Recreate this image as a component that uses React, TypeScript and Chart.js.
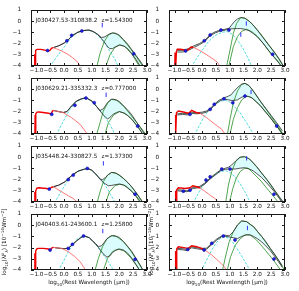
import React, { useEffect, useRef } from 'react';
import { Chart, registerables } from 'chart.js';
Chart.register(...registerables);

type Pair = [number, number];

// ---------- Panel 1 : J030427.53-310838.2 (row 1, left) ----------
const p1Red: Pair[] = [[-1.07,-4.2],[-1.065,-2.95],[-1.055,-4.2],[-1.045,-2.9],[-1.02,-2.6],[-0.98,-2.52],[-0.85,-2.52],[-0.7,-2.58],[-0.6,-2.65],[-0.52,-2.62],[-0.46,-2.42],[-0.4,-2.36]];
const p1Salmon: Pair[] = [[-0.4,-2.36],[-0.25,-2.5],[-0.1,-2.65],[0.1,-2.9],[0.3,-3.25],[0.45,-3.55],[0.62,-4.1]];
const p1Cyan: Pair[] = [[-0.52,-4.1],[-0.27,-3.17],[-0.03,-2.42],[0.15,-1.8],[0.3,-1.35],[0.5,-1.0],[0.7,-0.85],[0.9,-0.82],[1.05,-0.95],[1.2,-1.2],[1.35,-1.6],[1.5,-2.05],[1.66,-2.72],[1.84,-3.4],[1.97,-4.1]];
const p1GreenHi: Pair[] = [[1.18,-4.1],[1.3,-2.87],[1.45,-1.83],[1.6,-1.23],[1.76,-1.05],[1.93,-1.17],[2.15,-1.68],[2.39,-2.42],[2.63,-3.23],[2.87,-4.1]];
const p1GreenLo: Pair[] = [[1.5,-4.1],[1.66,-3.0],[1.84,-2.33],[2.02,-2.12],[2.2,-2.27],[2.45,-2.93],[2.74,-4.1]];
const p1TotX = [-0.4,-0.2,0.0,0.15,0.3,0.5,0.7,0.9,1.05,1.2,1.35,1.45,1.55,1.65,1.75,1.85,2.0,2.15,2.3,2.45,2.6,2.75,2.9];
const p1TotHi = [-2.36,-2.2,-1.95,-1.65,-1.28,-0.98,-0.83,-0.79,-0.92,-1.15,-1.45,-1.42,-1.28,-1.12,-1.05,-1.07,-1.25,-1.65,-2.05,-2.55,-3.05,-3.55,-4.1];
const p1TotLo = [-2.36,-2.2,-1.95,-1.65,-1.28,-0.98,-0.83,-0.79,-0.92,-1.15,-1.55,-1.85,-2.2,-2.45,-2.45,-2.3,-2.12,-2.2,-2.45,-2.9,-3.4,-4.0,-4.6];
const p1Pts: Pair[] = [[-0.6,-2.62],[0.1,-1.75],[0.27,-1.26],[0.64,-0.87],[2.52,-2.9]];
const p1Lim: Pair[] = [[1.38,-0.35]];

// ---------- Panel 2 (row 1, right) ----------
const p2Red: Pair[] = [[-0.99,-4.2],[-0.98,-2.8],[-0.96,-4.2],[-0.93,-2.7],[-0.9,-2.5],[-0.8,-2.5],[-0.68,-2.55],[-0.58,-2.65],[-0.48,-2.5],[-0.4,-2.3],[-0.32,-2.32]];
const p2Salmon: Pair[] = [[-0.32,-2.32],[-0.08,-2.63],[0.23,-3.1],[0.53,-3.61],[0.67,-4.1]];
const p2Cyan: Pair[] = [[-0.4,-4.1],[-0.08,-2.87],[0.23,-1.83],[0.45,-1.3],[0.7,-1.0],[0.9,-0.92],[1.05,-1.1],[1.2,-1.45],[1.37,-2.0],[1.55,-2.75],[1.71,-3.55],[1.8,-4.1]];
const p2GreenHi: Pair[] = [[0.88,-4.1],[1.01,-2.57],[1.13,-1.08],[1.25,-0.19],[1.4,0.33],[1.55,0.26],[1.73,-0.04],[1.9,-0.5],[2.1,-1.08],[2.46,-2.27],[2.76,-3.32],[2.95,-4.05]];
const p2GreenLo: Pair[] = [[0.96,-4.1],[1.13,-2.27],[1.28,-1.38],[1.43,-0.9],[1.61,-0.72],[1.8,-0.93],[2.0,-1.35],[2.2,-1.95],[2.46,-2.8],[2.76,-3.61],[2.88,-4.05]];
const p2TotX = [-0.9,-0.7,-0.5,-0.3,-0.1,0.1,0.29,0.47,0.65,0.83,0.98,1.08,1.18,1.28,1.4,1.55,1.7,1.85,2.0,2.2,2.4,2.6,2.8,2.95];
const p2TotHi = [-2.6,-2.6,-2.45,-2.2,-2.0,-1.7,-1.2,-0.95,-0.8,-0.72,-0.62,-0.3,0.0,0.2,0.33,0.27,0.0,-0.35,-0.8,-1.45,-2.1,-2.7,-3.4,-4.05];
const p2TotLo = [-2.75,-2.75,-2.6,-2.35,-2.1,-1.8,-1.3,-1.05,-0.88,-0.8,-0.7,-0.68,-0.66,-0.66,-0.66,-0.72,-0.85,-1.1,-1.4,-1.95,-2.6,-3.2,-3.8,-4.4];
const p2Pts: Pair[] = [[-0.6,-2.65],[0.08,-1.74],[0.29,-1.23],[0.68,-0.79],[0.97,-0.79],[2.55,-2.95]];
const p2Lim: Pair[] = [[1.4,-1.2],[1.6,-0.2]];

// ---------- Panel 3 : J030629.21-335332.3 (row 2, left) ----------
const p3Red: Pair[] = [[-1.06,-4.2],[-1.05,-2.3],[-1.035,-4.2],[-1.02,-2.2],[-0.98,-2.05],[-0.9,-2.04],[-0.7,-2.1],[-0.57,-2.15],[-0.48,-2.2],[-0.42,-1.95],[-0.38,-1.9]];
const p3Salmon: Pair[] = [[-0.38,-1.9],[-0.2,-2.0],[-0.03,-2.1],[0.27,-2.54],[0.58,-3.14],[0.82,-3.94],[0.85,-4.1]];
const p3Cyan: Pair[] = [[-0.28,-4.1],[-0.09,-3.14],[0.09,-2.33],[0.21,-1.8],[0.4,-1.25],[0.6,-0.9],[0.8,-0.8],[1.0,-1.05],[1.2,-1.6],[1.36,-2.1],[1.5,-2.6],[1.66,-3.14],[1.85,-4.1]];
const p3GreenHi: Pair[] = [[1.17,-4.1],[1.3,-2.99],[1.42,-1.95],[1.57,-1.26],[1.72,-0.9],[1.9,-0.99],[2.15,-1.5],[2.39,-2.24],[2.63,-2.99],[2.87,-3.73],[2.97,-4.1]];
const p3GreenLo: Pair[] = [[1.47,-4.1],[1.6,-2.99],[1.78,-2.33],[2.0,-2.0],[2.21,-2.15],[2.45,-2.69],[2.69,-3.43],[2.87,-4.1]];
const p3TotX = [-0.38,-0.2,-0.03,0.1,0.27,0.45,0.64,0.79,1.0,1.18,1.3,1.42,1.5,1.57,1.65,1.72,1.8,1.9,2.0,2.15,2.3,2.45,2.6,2.75,2.9];
const p3TotHi = [-1.9,-2.0,-2.08,-2.0,-1.5,-1.05,-0.85,-0.76,-1.05,-1.56,-1.9,-1.75,-1.45,-1.2,-1.0,-0.9,-0.9,-0.97,-1.1,-1.5,-1.85,-2.3,-2.85,-3.4,-3.95];
const p3TotLo = [-1.9,-2.0,-2.08,-2.0,-1.5,-1.05,-0.85,-0.76,-1.05,-1.56,-1.95,-2.3,-2.5,-2.65,-2.55,-2.35,-2.2,-2.08,-2.0,-2.12,-2.35,-2.69,-3.15,-3.65,-4.2];
const p3Pts: Pair[] = [[-0.45,-2.24],[0.39,-1.44],[0.79,-0.79],[1.09,-1.2],[2.66,-3.29]];
const p3Lim: Pair[] = [[1.52,-0.5]];

// ---------- Panel 4 (row 2, right) ----------
const p4Red: Pair[] = [[-0.98,-4.2],[-0.97,-2.3],[-0.95,-4.2],[-0.93,-2.1],[-0.86,-1.95],[-0.68,-2.04],[-0.5,-2.15],[-0.42,-2.0],[-0.38,-1.89],[-0.2,-2.1],[-0.08,-2.15]];
const p4Salmon: Pair[] = [[-0.08,-2.15],[0.16,-2.54],[0.47,-3.14],[0.71,-3.58],[0.85,-4.1]];
const p4Cyan: Pair[] = [[-0.28,-4.1],[-0.08,-3.14],[0.1,-2.33],[0.3,-1.75],[0.5,-1.3],[0.7,-1.05],[0.85,-1.0],[1.0,-1.15],[1.15,-1.5],[1.37,-2.1],[1.61,-2.99],[1.88,-4.1]];
const p4GreenHi: Pair[] = [[0.91,-4.1],[1.01,-2.69],[1.13,-1.2],[1.28,-0.16],[1.43,0.43],[1.55,0.52],[1.68,0.35],[1.8,0.0],[2.1,-1.05],[2.46,-2.3],[2.76,-3.35],[2.94,-4.05]];
const p4GreenLo: Pair[] = [[1.0,-4.1],[1.13,-2.69],[1.28,-1.65],[1.43,-0.96],[1.61,-0.61],[1.8,-0.76],[2.1,-1.45],[2.46,-2.5],[2.76,-3.5],[2.9,-4.05]];
const p4TotX = [-0.9,-0.7,-0.5,-0.4,-0.2,0.0,0.15,0.29,0.44,0.6,0.79,0.95,1.05,1.15,1.28,1.43,1.55,1.68,1.8,1.95,2.1,2.3,2.5,2.7,2.9];
const p4TotHi = [-2.2,-2.15,-2.2,-2.05,-2.1,-2.05,-1.95,-1.75,-1.35,-1.0,-0.78,-0.62,-0.5,-0.2,0.15,0.45,0.52,0.35,0.02,-0.5,-1.05,-1.7,-2.35,-3.0,-3.7];
const p4TotLo = [-2.3,-2.25,-2.3,-2.15,-2.2,-2.15,-2.05,-1.85,-1.45,-1.1,-0.88,-0.95,-1.0,-1.0,-0.95,-0.72,-0.62,-0.65,-0.78,-1.1,-1.45,-2.05,-2.65,-3.3,-3.95];
const p4Pts: Pair[] = [[-0.44,-2.24],[0.29,-1.8],[0.44,-1.35],[0.79,-0.85],[1.11,-1.2],[1.55,-0.61],[2.7,-3.29]];
const p4Lim: Pair[] = [[1.77,-0.25]];

// ---------- Panel 5 : J035448.24-330827.5 (row 3, left) ----------
const p5Red: Pair[] = [[-1.07,-4.2],[-1.06,-3.1],[-1.05,-4.2],[-1.03,-3.0],[-0.98,-2.75],[-0.9,-2.73],[-0.75,-2.77],[-0.63,-2.8],[-0.54,-2.85],[-0.46,-2.7],[-0.39,-2.64]];
const p5Salmon: Pair[] = [[-0.39,-2.64],[-0.25,-2.85],[-0.09,-3.09],[0.15,-3.45],[0.33,-3.69],[0.52,-4.1]];
const p5Cyan: Pair[] = [[-0.35,-4.1],[-0.15,-3.24],[0.03,-2.49],[0.2,-1.8],[0.4,-1.4],[0.6,-1.15],[0.84,-1.02],[1.0,-1.17],[1.18,-1.62],[1.36,-2.08],[1.52,-2.64],[1.66,-3.24],[1.86,-4.1]];
const p5GreenHi: Pair[] = [[1.19,-4.1],[1.3,-3.09],[1.42,-2.19],[1.57,-1.6],[1.72,-1.36],[1.9,-1.45],[2.15,-1.9],[2.39,-2.49],[2.63,-3.24],[2.87,-4.1]];
const p5GreenLo: Pair[] = [[1.5,-4.1],[1.64,-3.09],[1.84,-2.55],[2.02,-2.4],[2.23,-2.55],[2.45,-3.03],[2.69,-3.69],[2.8,-4.1]];
const p5TotX = [-0.39,-0.2,0.03,0.15,0.33,0.51,0.7,0.84,1.0,1.18,1.3,1.4,1.5,1.6,1.72,1.85,2.0,2.15,2.3,2.45,2.6,2.75,2.9];
const p5TotHi = [-2.64,-2.5,-2.2,-1.9,-1.54,-1.24,-1.09,-1.0,-1.15,-1.6,-1.95,-2.0,-1.8,-1.55,-1.36,-1.4,-1.6,-1.9,-2.25,-2.65,-3.15,-3.7,-4.2];
const p5TotLo = [-2.64,-2.5,-2.2,-1.9,-1.54,-1.24,-1.09,-1.0,-1.15,-1.6,-1.97,-2.22,-2.4,-2.55,-2.52,-2.45,-2.4,-2.48,-2.75,-3.05,-3.5,-4.0,-4.5];
const p5Pts: Pair[] = [[-0.54,-2.85],[0.15,-1.99],[0.33,-1.6],[0.84,-1.0],[2.57,-3.3]];
const p5Lim: Pair[] = [[1.42,-0.55]];

// ---------- Panel 6 (row 3, right) ----------
const p6Red: Pair[] = [[-0.97,-4.2],[-0.96,-3.0],[-0.94,-4.2],[-0.92,-2.9],[-0.86,-2.73],[-0.62,-2.79],[-0.44,-2.73],[-0.34,-2.55],[-0.2,-2.64],[-0.08,-2.75]];
const p6Salmon: Pair[] = [[-0.08,-2.75],[0.04,-2.94],[0.29,-3.39],[0.47,-3.69],[0.6,-4.1]];
const p6Cyan: Pair[] = [[-0.33,-4.1],[-0.14,-3.24],[0.04,-2.49],[0.25,-1.95],[0.45,-1.6],[0.65,-1.3],[0.85,-1.2],[1.0,-1.35],[1.19,-1.75],[1.37,-2.34],[1.55,-3.09],[1.75,-4.1]];
const p6GreenHi: Pair[] = [[0.85,-4.1],[0.95,-2.49],[1.07,-1.3],[1.21,-0.4],[1.37,-0.01],[1.53,0.04],[1.71,-0.16],[1.97,-0.85],[2.34,-2.0],[2.64,-3.05],[2.88,-3.9],[2.96,-4.1]];
const p6GreenLo: Pair[] = [[0.98,-4.1],[1.11,-2.79],[1.23,-1.9],[1.37,-1.3],[1.53,-1.0],[1.65,-0.97],[1.8,-1.3],[2.1,-2.04],[2.4,-2.94],[2.7,-3.84],[2.78,-4.1]];
const p6TotX = [-0.9,-0.7,-0.56,-0.44,-0.34,-0.2,-0.08,0.1,0.29,0.47,0.68,0.85,0.95,1.07,1.21,1.37,1.53,1.71,1.85,1.97,2.15,2.34,2.5,2.64,2.8,2.95];
const p6TotHi = [-2.9,-2.95,-3.0,-2.9,-2.7,-2.65,-2.6,-2.3,-1.85,-1.5,-1.12,-0.98,-0.9,-0.7,-0.35,0.0,0.05,-0.14,-0.5,-0.83,-1.4,-1.98,-2.5,-3.0,-3.55,-4.05];
const p6TotLo = [-3.0,-3.05,-3.08,-3.0,-2.8,-2.75,-2.7,-2.4,-1.95,-1.6,-1.2,-1.08,-1.06,-1.06,-1.05,-0.98,-0.94,-1.05,-1.22,-1.45,-1.8,-2.3,-2.75,-3.15,-3.7,-4.25];
const p6Pts: Pair[] = [[-0.68,-3.03],[-0.44,-2.94],[0.14,-2.04],[0.29,-1.75],[0.71,-1.06],[1.01,-1.06],[2.6,-3.3]];
const p6Lim: Pair[] = [[1.61,-0.1]];

// ---------- Panel 7 : J040403.61-243600.1 (row 4, left) ----------
const p7Red: Pair[] = [[-1.07,-4.2],[-1.06,-2.5],[-1.05,-4.2],[-1.03,-2.3],[-0.98,-2.1],[-0.93,-2.07],[-0.75,-2.07],[-0.57,-2.13],[-0.5,-2.2],[-0.44,-2.02],[-0.39,-1.98]];
const p7Salmon: Pair[] = [[-0.39,-1.98],[-0.09,-2.07],[0.15,-2.36],[0.39,-2.81],[0.58,-3.26],[0.8,-4.1]];
const p7Cyan: Pair[] = [[-0.22,-4.1],[-0.03,-3.26],[0.15,-2.36],[0.3,-1.75],[0.45,-1.3],[0.6,-1.05],[0.72,-0.95],[0.91,-1.12],[1.12,-1.62],[1.3,-2.21],[1.42,-2.66],[1.6,-3.26],[1.8,-4.1]];
const p7GreenHi: Pair[] = [[1.11,-4.1],[1.24,-2.96],[1.39,-1.92],[1.54,-1.23],[1.72,-0.93],[1.9,-1.02],[2.15,-1.47],[2.39,-2.21],[2.63,-3.11],[2.87,-4.1]];
const p7GreenLo: Pair[] = [[1.41,-4.1],[1.57,-2.96],[1.75,-2.36],[1.96,-2.13],[2.17,-2.3],[2.41,-2.9],[2.65,-3.71],[2.75,-4.1]];
const p7TotX = [-0.39,-0.2,0.0,0.15,0.3,0.45,0.6,0.72,0.91,1.12,1.25,1.35,1.45,1.55,1.65,1.75,1.85,2.0,2.15,2.3,2.45,2.6,2.75,2.9];
const p7TotHi = [-1.98,-2.05,-2.1,-2.05,-1.74,-1.4,-1.12,-0.95,-1.12,-1.62,-1.9,-1.85,-1.55,-1.22,-1.02,-0.93,-0.95,-1.1,-1.47,-1.9,-2.35,-2.95,-3.55,-4.2];
const p7TotLo = [-1.98,-2.05,-2.1,-2.05,-1.74,-1.4,-1.12,-0.95,-1.12,-1.62,-2.02,-2.35,-2.65,-2.85,-2.75,-2.45,-2.25,-2.13,-2.22,-2.5,-2.95,-3.5,-4.1,-4.6];
const p7Pts: Pair[] = [[-0.51,-2.22],[0.15,-2.07],[0.3,-1.71],[0.7,-0.96],[2.57,-3.05]];
const p7Lim: Pair[] = [[1.4,-0.52]];

// ---------- Panel 8 (row 4, right) ----------
const p8Red: Pair[] = [[-0.97,-4.2],[-0.96,-2.3],[-0.94,-4.2],[-0.92,-2.1],[-0.86,-1.92],[-0.68,-2.0],[-0.5,-2.07],[-0.38,-1.83],[-0.2,-1.92],[-0.02,-2.07],[0.1,-2.22]];
const p8Salmon: Pair[] = [[0.1,-2.22],[0.35,-2.66],[0.59,-3.2],[0.77,-3.62],[0.92,-4.1]];
const p8Cyan: Pair[] = [[-0.03,-4.1],[0.16,-3.11],[0.35,-2.21],[0.5,-1.6],[0.65,-1.2],[0.8,-1.05],[0.95,-1.15],[1.1,-1.5],[1.37,-2.51],[1.55,-3.26],[1.75,-4.1]];
const p8GreenHi: Pair[] = [[0.73,-4.1],[0.86,-2.66],[0.98,-1.47],[1.13,-0.58],[1.28,0.02],[1.43,0.38],[1.61,0.32],[1.86,-0.13],[2.16,-1.02],[2.46,-2.07],[2.76,-3.11],[2.98,-4.0]];
const p8GreenLo: Pair[] = [[0.9,-4.1],[1.03,-2.81],[1.19,-1.83],[1.37,-1.23],[1.55,-0.87],[1.73,-0.87],[1.97,-1.32],[2.28,-2.21],[2.58,-3.11],[2.84,-4.0]];
const p8TotX = [-0.9,-0.7,-0.56,-0.38,-0.2,-0.02,0.16,0.35,0.53,0.71,0.85,0.98,1.13,1.28,1.43,1.61,1.75,1.86,2.0,2.16,2.3,2.46,2.6,2.76,2.9];
const p8TotHi = [-2.07,-2.1,-2.16,-1.92,-2.0,-2.07,-2.05,-1.62,-1.23,-0.96,-0.9,-0.95,-0.58,0.02,0.38,0.32,0.05,-0.13,-0.55,-1.02,-1.45,-2.05,-2.5,-3.1,-3.6];
const p8TotLo = [-2.17,-2.2,-2.26,-2.02,-2.1,-2.17,-2.15,-1.72,-1.33,-1.02,-1.0,-1.05,-1.12,-1.2,-1.0,-0.85,-0.87,-1.0,-1.2,-1.5,-1.85,-2.25,-2.7,-3.25,-3.75];
const p8Pts: Pair[] = [[-0.52,-2.16],[0.07,-2.22],[0.35,-1.62],[0.77,-0.96],[1.19,-1.32],[2.6,-3.02]];
const p8Lim: Pair[] = [[1.64,-0.25]];

// ---------- axes / labels ----------
const xTickValues = [-1.0, -0.5, 0.0, 0.5, 1.0, 1.5, 2.0, 2.5, 3.0];
const yTickValues = [1, 0, -1, -2, -3, -4];
const sourceNames = ['J030427.53-310838.2', 'J030629.21-335332.3', 'J035448.24-330827.5', 'J040403.61-243600.1'];
const redshiftLabels = ['z=1.54300', 'z=0.777000', 'z=1.37300', 'z=1.25800'];
// rich text segments: [text, -1 = subscript, 0 = normal, 1 = superscript]
const xTitle: [string, number][] = [['log', 0], ['10', -1], ['(Rest Wavelength [\u03bcm])', 0]];
const yTitle: [string, number][] = [['log', 0], ['10', -1], ['(\u03bbF', 0], ['\u03bb', -1], [') [10', 0], ['\u221214', 1], ['Wm', 0], ['\u22122', 1], [']', 0]];

const FONT = '"DejaVu Sans", sans-serif';
const FS = 5.7;
const PLOT_W = 116, PLOT_H = 56, PAD_L = 28, PAD_T = 6, PAD_R = 8, PAD_B = 12;
const CW = PAD_L + PLOT_W + PAD_R, CH = PAD_T + PLOT_H + PAD_B;
const COL_X = [31, 169];
const ROW_Y = [10, 78, 146, 214];

interface Panel {
  red: Pair[]; salmon: Pair[]; cyan: Pair[]; gHi: Pair[]; gLo: Pair[];
  tx: number[]; hi: number[]; lo: number[]; pts: Pair[]; lim: Pair[];
  name?: string; z?: string;
}

const panels: Panel[] = [
  { red: p1Red, salmon: p1Salmon, cyan: p1Cyan, gHi: p1GreenHi, gLo: p1GreenLo, tx: p1TotX, hi: p1TotHi, lo: p1TotLo, pts: p1Pts, lim: p1Lim, name: sourceNames[0], z: redshiftLabels[0] },
  { red: p2Red, salmon: p2Salmon, cyan: p2Cyan, gHi: p2GreenHi, gLo: p2GreenLo, tx: p2TotX, hi: p2TotHi, lo: p2TotLo, pts: p2Pts, lim: p2Lim },
  { red: p3Red, salmon: p3Salmon, cyan: p3Cyan, gHi: p3GreenHi, gLo: p3GreenLo, tx: p3TotX, hi: p3TotHi, lo: p3TotLo, pts: p3Pts, lim: p3Lim, name: sourceNames[1], z: redshiftLabels[1] },
  { red: p4Red, salmon: p4Salmon, cyan: p4Cyan, gHi: p4GreenHi, gLo: p4GreenLo, tx: p4TotX, hi: p4TotHi, lo: p4TotLo, pts: p4Pts, lim: p4Lim },
  { red: p5Red, salmon: p5Salmon, cyan: p5Cyan, gHi: p5GreenHi, gLo: p5GreenLo, tx: p5TotX, hi: p5TotHi, lo: p5TotLo, pts: p5Pts, lim: p5Lim, name: sourceNames[2], z: redshiftLabels[2] },
  { red: p6Red, salmon: p6Salmon, cyan: p6Cyan, gHi: p6GreenHi, gLo: p6GreenLo, tx: p6TotX, hi: p6TotHi, lo: p6TotLo, pts: p6Pts, lim: p6Lim },
  { red: p7Red, salmon: p7Salmon, cyan: p7Cyan, gHi: p7GreenHi, gLo: p7GreenLo, tx: p7TotX, hi: p7TotHi, lo: p7TotLo, pts: p7Pts, lim: p7Lim, name: sourceNames[3], z: redshiftLabels[3] },
  { red: p8Red, salmon: p8Salmon, cyan: p8Cyan, gHi: p8GreenHi, gLo: p8GreenLo, tx: p8TotX, hi: p8TotHi, lo: p8TotLo, pts: p8Pts, lim: p8Lim },
];

const minus = (s: string) => s.replace('-', '\u2212');
const toXY = (a: Pair[]) => a.map(([x, y]) => ({ x, y }));
const zipXY = (xs: number[], ys: number[]) => xs.map((x, i) => ({ x, y: ys[i] }));

const framePlugin = {
  id: 'sedFrame',
  afterDraw(chart: any, _args: any, opts: any) {
    const { ctx, chartArea: a } = chart;
    const xs = chart.scales.x, ys = chart.scales.y;
    ctx.save();
    ctx.strokeStyle = '#1a1a1a';
    ctx.lineWidth = 1;
    ctx.strokeRect(a.left + 0.5, a.top + 0.5, a.right - a.left - 1, a.bottom - a.top - 1);
    ctx.beginPath();
    for (const v of xTickValues) {
      const px = Math.round(xs.getPixelForValue(v)) + 0.5;
      ctx.moveTo(px, a.bottom); ctx.lineTo(px, a.bottom - 3);
      ctx.moveTo(px, a.top); ctx.lineTo(px, a.top + 3);
    }
    for (const v of yTickValues) {
      const py = Math.round(ys.getPixelForValue(v)) + 0.5;
      ctx.moveTo(a.left, py); ctx.lineTo(a.left + 3, py);
      ctx.moveTo(a.right, py); ctx.lineTo(a.right - 3, py);
    }
    ctx.stroke();
    ctx.font = `${FS}px ${FONT}`;
    ctx.fillStyle = '#111';
    // x tick labels placed through the x scale
    ctx.textAlign = 'center';
    ctx.textBaseline = 'top';
    for (const v of xTickValues) {
      ctx.fillText(minus(v.toFixed(1)), xs.getPixelForValue(v), a.bottom + 2);
    }
    if (opts && opts.name) {
      ctx.textBaseline = 'middle';
      ctx.textAlign = 'left';
      const ty = ys.getPixelForValue(0.08);
      ctx.fillText(opts.name, xs.getPixelForValue(-1.03), ty);
      ctx.fillText(opts.z, xs.getPixelForValue(1.35), ty);
    }
    ctx.restore();
  },
};

function lineDs(data: any[], color: string, width: number, order: number, extra: any = {}) {
  return { data, showLine: true, borderColor: color, borderWidth: width, pointRadius: 0, pointHoverRadius: 0, fill: false, order, ...extra };
}

function buildConfig(p: Panel): any {
  const tickFont = { family: FONT, size: FS };
  return {
    type: 'scatter',
    data: {
      datasets: [
        lineDs(zipXY(p.tx, p.hi), '#2a2a2a', 0.8, 2, { fill: '+1', backgroundColor: 'rgba(215,252,252,0.9)' }),
        lineDs(zipXY(p.tx, p.lo), '#2a2a2a', 0.8, 2),
        lineDs(toXY(p.gHi), '#3c9a3c', 0.9, 3),
        lineDs(toXY(p.gLo), '#3c9a3c', 0.9, 3),
        lineDs(toXY(p.cyan), '#38d8d8', 0.9, 4, { borderDash: [2.5, 1.5] }),
        lineDs(toXY(p.salmon), '#ff6a6a', 0.9, 1),
        lineDs(toXY(p.red), '#ee0000', 1.4, 1),
        { data: toXY(p.pts), showLine: false, pointRadius: 1.5, pointBackgroundColor: '#1f1fe0', pointBorderColor: '#0000a0', pointBorderWidth: 0.5, order: 0 },
        { data: toXY(p.lim), showLine: false, pointStyle: 'line', rotation: 90, pointRadius: 2.2, pointBorderColor: '#3030ff', pointBorderWidth: 1, order: 0 },
      ],
    },
    options: {
      responsive: false,
      animation: false,
      events: [],
      layout: { padding: { left: 0, right: PAD_R, top: PAD_T, bottom: 0 } },
      plugins: {
        legend: { display: false },
        tooltip: { enabled: false },
        filler: { drawTime: 'beforeDatasetsDraw' },
        sedFrame: { name: p.name, z: p.z },
      },
      scales: {
        x: {
          type: 'linear', min: -1.2, max: 3.0,
          grid: { display: false }, border: { display: false },
          ticks: { display: false },
          afterBuildTicks: (s: any) => { s.ticks = xTickValues.map((v) => ({ value: v })); },
          afterFit: (s: any) => { s.height = PAD_B; },
        },
        y: {
          type: 'linear', min: -4, max: 1,
          grid: { display: false }, border: { display: false },
          ticks: { font: tickFont, color: '#111', padding: 2, autoSkip: false, callback: (v: any) => minus(String(v)) },
          afterBuildTicks: (s: any) => { s.ticks = yTickValues.map((v) => ({ value: v })); },
          afterFit: (s: any) => { s.width = PAD_L; },
        },
      },
    },
    plugins: [framePlugin],
  };
}

function PanelChart({ panel, left, top }: { panel: Panel; left: number; top: number }) {
  const ref = useRef<HTMLCanvasElement>(null);
  useEffect(() => {
    const chart = new Chart(ref.current as HTMLCanvasElement, buildConfig(panel));
    return () => chart.destroy();
  }, [panel]);
  return (
    <canvas ref={ref} width={CW} height={CH}
      style={{ position: 'absolute', left: left - PAD_L, top: top - PAD_T, width: CW, height: CH }} />
  );
}

function drawRich(ctx: CanvasRenderingContext2D, segs: [string, number][], cx: number, cy: number, angle: number) {
  ctx.save();
  ctx.translate(cx, cy);
  ctx.rotate(angle);
  ctx.textBaseline = 'middle';
  ctx.textAlign = 'left';
  ctx.fillStyle = '#111';
  const fontFor = (k: number) => `${k === 0 ? FS : FS * 0.72}px ${FONT}`;
  let total = 0;
  for (const [t, k] of segs) { ctx.font = fontFor(k); total += ctx.measureText(t).width; }
  let x = -total / 2;
  for (const [t, k] of segs) {
    ctx.font = fontFor(k);
    const dy = k < 0 ? FS * 0.3 : k > 0 ? -FS * 0.38 : 0;
    ctx.fillText(t, x, dy);
    x += ctx.measureText(t).width;
  }
  ctx.restore();
}

function Titles() {
  const ref = useRef<HTMLCanvasElement>(null);
  useEffect(() => {
    const c = ref.current as HTMLCanvasElement;
    const ctx = c.getContext('2d') as CanvasRenderingContext2D;
    ctx.clearRect(0, 0, c.width, c.height);
    drawRich(ctx, xTitle, COL_X[0] + PLOT_W / 2, 283, 0);
    drawRich(ctx, xTitle, COL_X[1] + PLOT_W / 2, 283, 0);
    drawRich(ctx, yTitle, 5, ROW_Y[3] + PLOT_H / 2, -Math.PI / 2);
    drawRich(ctx, yTitle, 152, ROW_Y[3] + PLOT_H / 2, -Math.PI / 2);
  }, []);
  return <canvas ref={ref} width={299} height={291} style={{ position: 'absolute', left: 0, top: 0, width: 299, height: 291 }} />;
}

export default function App() {
  return (
    <div style={{ position: 'fixed', left: 0, top: 0, width: 299, height: 291, background: '#fff', overflow: 'hidden' }}>
      <Titles />
      {panels.map((p, i) => (
        <PanelChart key={i} panel={p} left={COL_X[i % 2]} top={ROW_Y[Math.floor(i / 2)]} />
      ))}
    </div>
  );
}
